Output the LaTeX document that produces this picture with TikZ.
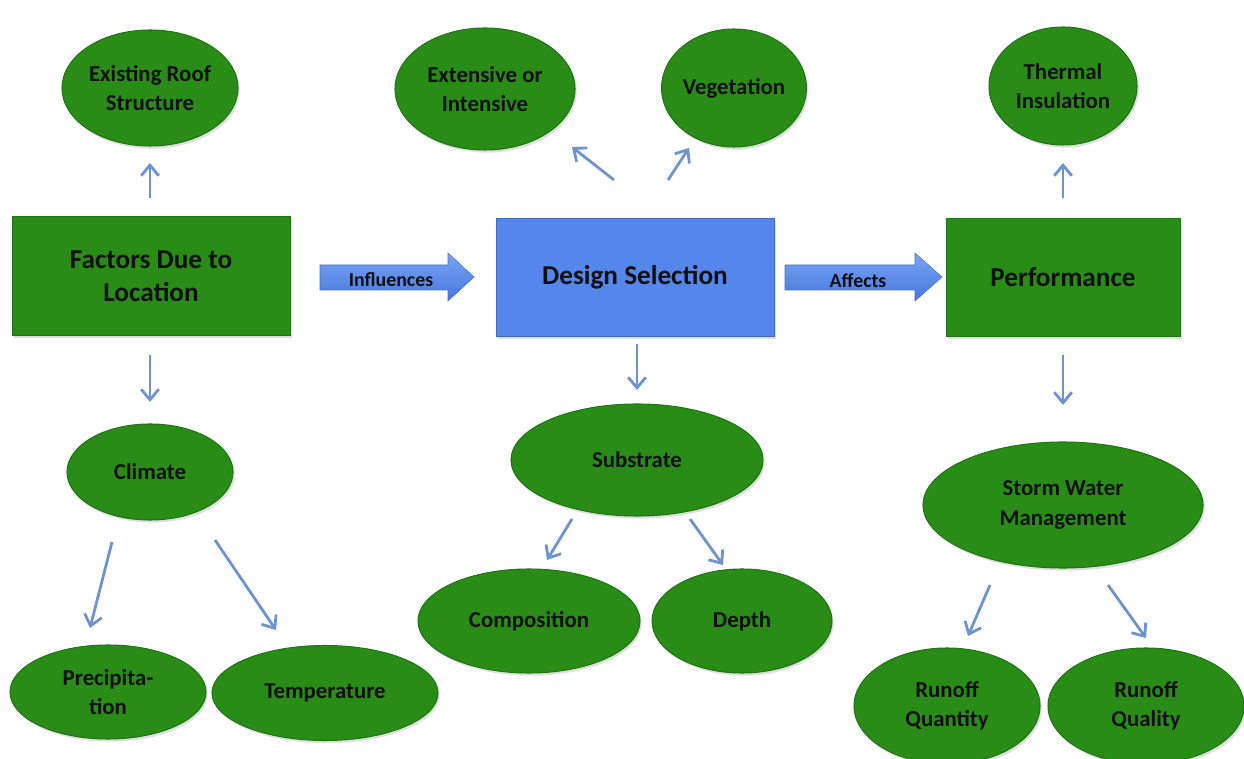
\documentclass[tikz,border=0pt]{standalone}
\usepackage{fontspec}
\setmainfont{Carlito}
\usetikzlibrary{shapes.geometric,arrows.meta,shadows}
\definecolor{leaf}{RGB}{40,140,22}
\definecolor{leafdark}{RGB}{32,118,20}
\definecolor{sel}{RGB}{84,134,236}
\definecolor{seltop}{RGB}{120,165,245}
\definecolor{selbot}{RGB}{70,118,222}
\definecolor{conn}{RGB}{110,148,206}
\definecolor{ink}{RGB}{16,16,16}
\begin{document}
\begin{tikzpicture}[x=0.02cm,y=-0.02cm,
  sz/.style 2 args={minimum width=#1*0.02cm, minimum height=#2*0.02cm},
  shd/.style={drop shadow={shadow xshift=1pt, shadow yshift=-1.5pt, opacity=0.25}},
  oval/.style={ellipse, fill=leaf, draw=leafdark, line width=0.6pt, inner sep=0pt,
    align=center, text=ink, font=\bfseries\fontsize{13}{16.8}\selectfont, shd},
  gbox/.style={rectangle, fill=leaf, draw=leafdark, line width=0.4pt, inner sep=0pt,
    align=center, text=ink, font=\bfseries\fontsize{15.5}{18.7}\selectfont, shd},
  bbox/.style={gbox, fill=sel, draw=sel!80!black},
  blk/.style={top color=seltop, bottom color=selbot, draw=sel!85!black, line width=0.3pt},
  blklab/.style={inner sep=0pt, text=ink, font=\bfseries\fontsize{11.3}{13}\selectfont},
  conn/.style={draw=conn, line width=1.6pt, -{Straight Barb[length=6pt,width=10pt,line width=1.6pt]}}
]
\useasboundingbox (0,0) rectangle (1244,759);
\fill[white] (0,0) rectangle (1244,759);

% main boxes
\node[gbox, sz={278}{119}] (fac) at (151,276) {Factors Due to\\Location};
\node[bbox, sz={278}{118}] (des) at (635,277) {Design Selection};
\node[gbox, sz={234}{118}] (perf) at (1063,277) {Performance};

% block arrows
\path[blk] (320,265) -- (448,265) -- (448,253) -- (474,277) -- (448,301) -- (448,290) -- (320,290) -- cycle;
\node[blklab] (infl) at (391,280) {Influences};
\path[blk] (785,265) -- (915,265) -- (915,253) -- (942,277) -- (915,301) -- (915,290) -- (785,290) -- cycle;
\node[blklab] (aff) at (858,281) {Affects};

% top ellipses
\node[oval, sz={176}{116}] (roof) at (150,88) {Existing Roof\\Structure};
\node[oval, sz={180}{122}] (ext) at (485,89) {Extensive or\\Intensive};
\node[oval, sz={142}{118}] (veg) at (734,88) {Vegetation};
\node[oval, sz={148}{118}] (therm) at (1063,86) {Thermal\\Insulation};

% middle ellipses
\node[oval, sz={166}{96}] (clim) at (150,472) {Climate};
\node[oval, sz={252}{112}] (sub) at (637,460) {Substrate};
\node[oval, sz={280}{126}] (swm) at (1063,505) {Storm Water\\Management};

% bottom ellipses
\node[oval, sz={196}{94}] (prec) at (108,692) {Precipita-\\tion};
\node[oval, sz={226}{95}] (temp) at (325,693) {Temperature};
\node[oval, sz={222}{104}] (comp) at (529,621) {Composition};
\node[oval, sz={180}{104}] (depth) at (742,621) {Depth};
\node[oval, sz={186}{116}] (rqn) at (947,706) {Runoff\\Quantity};
\node[oval, sz={196}{116}] (rql) at (1146,706) {Runoff\\Quality};

% connector end points
\coordinate (c1s) at (150,198); \coordinate (c1e) at (150,163);
\coordinate (c2s) at (614,180); \coordinate (c2e) at (572,147);
\coordinate (c3s) at (668,180); \coordinate (c3e) at (689,148);
\coordinate (c4s) at (1063,198); \coordinate (c4e) at (1063,163);
\coordinate (c5s) at (150,355); \coordinate (c5e) at (150,402);
\coordinate (c6s) at (637,344); \coordinate (c6e) at (637,390);
\coordinate (c7s) at (1063,355); \coordinate (c7e) at (1063,405);
\coordinate (c8s) at (112,542); \coordinate (c8e) at (90,628);
\coordinate (c9s) at (215,540); \coordinate (c9e) at (276,630);
\coordinate (c10s) at (572,519); \coordinate (c10e) at (547,560);
\coordinate (c11s) at (690,519); \coordinate (c11e) at (723,565);
\coordinate (c12s) at (990,585); \coordinate (c12e) at (968,636);
\coordinate (c13s) at (1108,585); \coordinate (c13e) at (1146,638);

\draw[conn] (c1s) -- (c1e);
\draw[conn] (c2s) -- (c2e);
\draw[conn] (c3s) -- (c3e);
\draw[conn] (c4s) -- (c4e);
\draw[conn] (c5s) -- (c5e);
\draw[conn] (c6s) -- (c6e);
\draw[conn] (c7s) -- (c7e);
\draw[conn] (c8s) -- (c8e);
\draw[conn] (c9s) -- (c9e);
\draw[conn] (c10s) -- (c10e);
\draw[conn] (c11s) -- (c11e);
\draw[conn] (c12s) -- (c12e);
\draw[conn] (c13s) -- (c13e);
\end{tikzpicture}
\end{document}
